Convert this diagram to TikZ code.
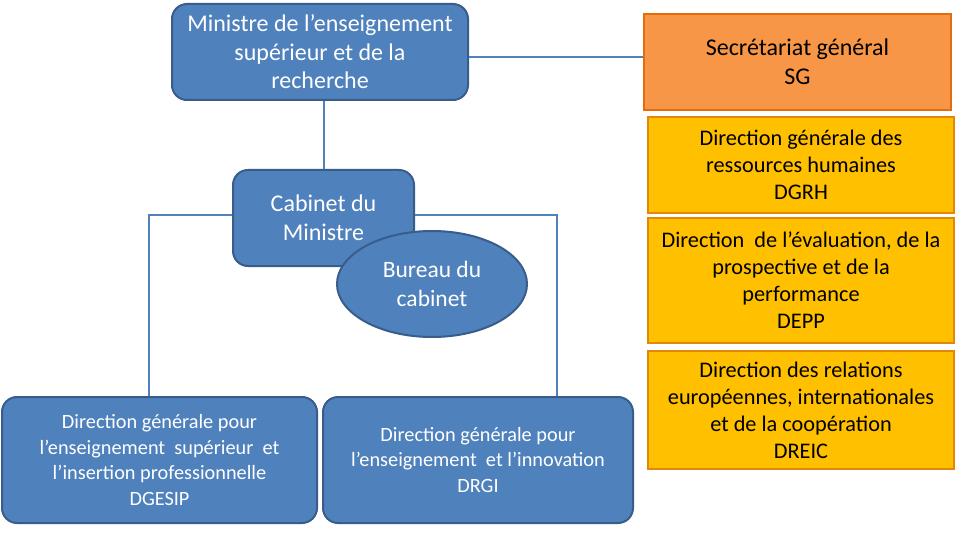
\documentclass[tikz,border=0pt]{standalone}
\usepackage{fontspec}
\setmainfont{Carlito}
\usetikzlibrary{shapes.geometric}
\definecolor{bfill}{HTML}{4F81BD}
\definecolor{bdraw}{HTML}{385D8A}
\definecolor{ofill}{HTML}{F79646}
\definecolor{odraw}{HTML}{E46C0A}
\definecolor{gfill}{HTML}{FFC000}
\definecolor{gdraw}{HTML}{E3870B}
\begin{document}
\begin{tikzpicture}[x=1pt,y=-1pt,
  bluebox/.style={draw=bdraw,fill=bfill,line width=2pt,rounded corners=15pt,text=white,align=center,inner sep=0pt},
  orgbox/.style={draw=odraw,fill=ofill,line width=2pt,text=black,align=center,inner sep=0pt},
  goldbox/.style={draw=gdraw,fill=gfill,line width=2pt,text=black,align=center,inner sep=0pt},
  conn/.style={draw=bfill,line width=2pt},
  toptxt/.style={font=\fontsize{24}{28.5}\selectfont},
  sgtxt/.style={font=\fontsize{24}{29}\selectfont},
  goldtxt/.style={font=\fontsize{22.3}{27}\selectfont},
  cabtxt/.style={font=\fontsize{24}{28.5}\selectfont},
  burtxt/.style={font=\fontsize{23.5}{29}\selectfont},
  bottxt/.style={font=\fontsize{20.3}{25.7}\selectfont}]
\useasboundingbox (0,0) rectangle (963,540);
\fill[white] (0,0) rectangle (963,540);
\coordinate (jl) at (149,215);
\coordinate (jr) at (557,215);
\node[bluebox,toptxt,minimum width=296pt,minimum height=96pt] (top) at (320,52) {Ministre de l’enseignement\\supérieur et de la\\recherche};
\node[orgbox,sgtxt,minimum width=307pt,minimum height=96pt] (sg) at (797.5,62) {Secrétariat général\\SG};
\node[goldbox,goldtxt,minimum width=306pt,minimum height=96pt] (dgrh) at (801,165) {Direction générale des\\ressources humaines\\DGRH};
\node[goldbox,goldtxt,minimum width=306pt,minimum height=125pt] (depp) at (801,280.5) {Direction\ \ de l’évaluation, de la\\prospective et de la\\performance\\DEPP};
\node[goldbox,goldtxt,minimum width=306pt,minimum height=118pt] (dreic) at (801,410) {Direction des relations\\européennes, internationales\\et de la coopération\\DREIC};
\path[conn] ([yshift=-5pt]top.east) -- ([yshift=5pt]sg.west);
\node[bluebox,cabtxt,minimum width=181pt,minimum height=96pt] (cab) at (323.5,218) {Cabinet du\\Ministre};
\path[conn] (top.south -| cab.north) -- (cab.north);
\node[bluebox,bottxt,minimum width=315pt,minimum height=126pt] (dgesip) at (159.5,460) {Direction générale pour\\l’enseignement \ supérieur \ et\\l’insertion professionnelle\\DGESIP};
\node[bluebox,bottxt,minimum width=310pt,minimum height=126pt] (drgi) at (478,460) {Direction générale pour\\l’enseignement \ et l’innovation\\DRGI};
\path[conn] (cab.west |- jl) -- (jl) -- (jl |- dgesip.north);
\path[conn] (cab.east |- jr) -- (jr) -- (jr |- drgi.north);
\node[ellipse,draw=bdraw,fill=bfill,line width=2pt,text=white,align=center,inner sep=0pt,burtxt,minimum width=190pt,minimum height=106pt] (bur) at (432,284) {Bureau du\\cabinet};
\end{tikzpicture}
\end{document}
